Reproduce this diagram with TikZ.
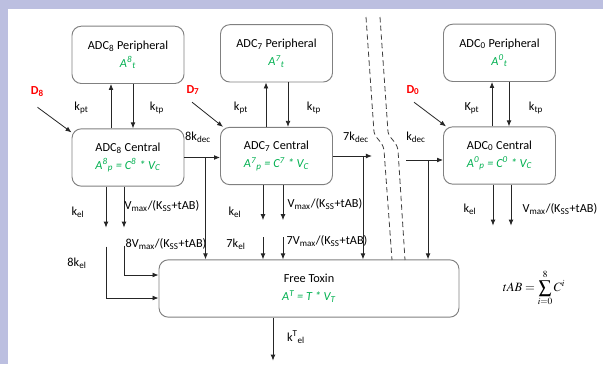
\documentclass[tikz,border=0pt]{standalone}
\usepackage{mathptmx}
\usepackage{fontspec}
\setmainfont{Carlito}
\usetikzlibrary{shapes,calc,arrows.meta}
\definecolor{frame}{RGB}{188,191,224}
\definecolor{eqgreen}{RGB}{0,176,80}
\definecolor{boxgray}{RGB}{128,128,128}
\tikzstyle{box} = [rectangle,draw=boxgray,rounded corners=7pt,line width=0.7pt,text centered,align=center,minimum width=84pt,minimum height=43pt,inner sep=1pt]

\begin{document}
\begin{tikzpicture}
		[
		x=0.75pt,y=-0.75pt,
		font=\fontsize{9.2}{13.5}\selectfont,
		flow/.style={draw=black!85,line width=0.6pt,-{Latex[length=4.5pt,width=3.6pt]}},
		lbl/.style={inner sep=0pt},
		dose/.style={lbl,text=red,font=\fontsize{9.2}{11}\selectfont\bfseries},
		brk/.style={draw=black!75,line width=0.6pt,dash pattern=on 4pt off 2.5pt},
		node distance=77pt
		]
		\fill[frame] (0,0) rectangle (603,364);
		\fill[white] (8,9) rectangle (603,364);
		\useasboundingbox (0,0) rectangle (603,364);

		\node[box](c8) at (128,157.5) {ADC\textsubscript{8} Central\\\textcolor{eqgreen}{\textit{A\textsuperscript{8}\textsubscript{p} = C\textsuperscript{8} * V\textsubscript{C}}}};
		\node[box,above of=c8](p8) {ADC\textsubscript{8} Peripheral\\\textcolor{eqgreen}{\textit{A\textsuperscript{8}\textsubscript{t}}}};
		\node[box](c7) at (276.5,156) {ADC\textsubscript{7} Central\\\textcolor{eqgreen}{\textit{A\textsuperscript{7}\textsubscript{p} = C\textsuperscript{7} * V\textsubscript{C}}}};
		\node[box,above of=c7](p7) {ADC\textsubscript{7} Peripheral\\\textcolor{eqgreen}{\textit{A\textsuperscript{7}\textsubscript{t}}}};
		\node[box](c0) at (499.5,155.5) {ADC\textsubscript{0} Central\\\textcolor{eqgreen}{\textit{A\textsuperscript{0}\textsubscript{p} = C\textsuperscript{0} * V\textsubscript{C}}}};
		\node[box,above of=c0](p0) {ADC\textsubscript{0} Peripheral\\\textcolor{eqgreen}{\textit{A\textsuperscript{0}\textsubscript{t}}}};
		\node[box,minimum width=225pt](ft) at (309,288.5) {Free Toxin\\\textcolor{eqgreen}{\textit{A\textsuperscript{T} = T * V\textsubscript{T}}}};

		\draw[flow] ($(c8.north)+(-17,0)$) -- ($(p8.south)+(-17,0)$);
		\draw[flow] ($(p8.south)+(5,0)$) -- ($(c8.north)+(5,0)$);
		\draw[flow] ($(c7.north)+(-10.5,0)$) -- ($(p7.south)+(-10.5,0)$);
		\draw[flow] ($(p7.south)+(11.5,0)$) -- ($(c7.north)+(11.5,0)$);
		\draw[flow] ($(c0.north)+(-7.5,0)$) -- ($(p0.south)+(-7.5,0)$);
		\draw[flow] ($(p0.south)+(9.5,0)$) -- ($(c0.north)+(9.5,0)$);

		\node[lbl](kpt8) at (81.5,108) {k\textsubscript{pt}};
		\node[lbl](ktp8) at (157,108) {k\textsubscript{tp}};
		\node[lbl](kpt7) at (241,108) {k\textsubscript{pt}};
		\node[lbl](ktp7) at (314,108) {k\textsubscript{tp}};
		\node[lbl](kpt0) at (472,108) {K\textsubscript{pt}};
		\node[lbl](ktp0) at (536,108) {k\textsubscript{tp}};

		\node[dose](d8) at (37.5,92) {D\textsubscript{8}};
		\node[dose](d7) at (193,90) {D\textsubscript{7}};
		\node[dose](d0) at (413,90) {D\textsubscript{0}};
		\draw[flow] ($(d8.south)+(0,10)$) -- ($(c8.north west)+(0,4)$);
		\draw[flow] ($(d7.south)+(-1,7)$) -- ($(c7.north west)+(3,0)$);
		\draw[flow] ($(d0.south)+(1,7)$) -- ($(c0.north west)+(3,0)$);

		\draw[flow] (c8.east) -- (c8.east -| c7.west);
		\draw[flow] ($(c8.east)+(21,0)$) coordinate (v8) -- (v8 |- ft.north);
		\draw[flow] (c7.east) -- ++(39,0);
		\draw[flow] ($(c7.east)+(30,0)$) coordinate (v7) -- (v7 |- ft.north);
		\draw[flow] ($(c0.west)+(-37,4.5)$) -- ($(c0.west)+(0,4.5)$);
		\draw[flow] ($(c0.west)+(-15,4.5)$) coordinate (v0) -- (v0 |- ft.north);
		\node[lbl](dec8) at (198,137) {8k\textsubscript{dec}};
		\node[lbl](dec7) at (356,137) {7k\textsubscript{dec}};
		\node[lbl](dec0) at (416,137) {k\textsubscript{dec}};

		\draw[brk] (366,17) -- (374,132) .. controls (376,140) and (382,140) .. (384,150) -- (392,260);
		\draw[brk] (380,17) -- (388,132) .. controls (390,140) and (396,140) .. (398,150) -- (405,260);

		\draw[flow] ($(c8.south)+(-22,0)$) -- ++(0,41);
		\draw[flow] ($(c8.south)+(-4,0)$) -- ++(0,41);
		\draw[flow] ($(c8.south)+(-22,60)$) |- ($(ft.west)+(0,9.5)$);
		\draw[flow] ($(c8.south)+(-4,59)$) |- ($(ft.west)+(0,-13.5)$);
		\node[lbl](kel8) at (78,212) {k\textsubscript{el}};
		\node[lbl](vm8) at (162,206) {V\textsubscript{max}/(K\textsubscript{SS}+tAB)};
		\node[lbl](kel8b) at (77,263) {8k\textsubscript{el}};
		\node[lbl](vm8b) at (166,244) {8V\textsubscript{max}/(K\textsubscript{SS}+tAB)};

		\draw[flow] ($(c7.south)+(-13.5,0)$) -- ++(0,35);
		\draw[flow] ($(c7.south)+(6.5,0)$) -- ++(0,35);
		\draw[flow] ($(c7.south)+(-13.5,52)$) coordinate (k7) -- (k7 |- ft.north);
		\draw[flow] ($(c7.south)+(6.5,52)$) coordinate (m7) -- (m7 |- ft.north);
		\node[lbl](kel7) at (235,212) {k\textsubscript{el}};
		\node[lbl](vm7) at (325,204) {V\textsubscript{max}/(K\textsubscript{SS}+tAB)};
		\node[lbl](kel7b) at (236,244) {7k\textsubscript{el}};
		\node[lbl](vm7b) at (327,241) {7V\textsubscript{max}/(K\textsubscript{SS}+tAB)};

		\draw[flow] ($(c0.south)+(-6.5,0)$) -- ++(0,41);
		\draw[flow] ($(c0.south)+(11.5,0)$) -- ++(0,41);
		\node[lbl](kel0) at (470,209) {k\textsubscript{el}};
		\node[lbl](vm0) at (560,209) {V\textsubscript{max}/(K\textsubscript{SS}+tAB)};

		\draw[flow] ($(ft.south)+(-36,0)$) -- ++(0,43);
		\node[lbl](kelT) at (296,337) {k\textsuperscript{T}\textsubscript{el}};

		\node(tab) at (534,288) {\fontsize{9.5}{12}\selectfont$\displaystyle tAB = \sum_{i=0}^{8} C^{i}$};
		\end{tikzpicture}
\end{document}
